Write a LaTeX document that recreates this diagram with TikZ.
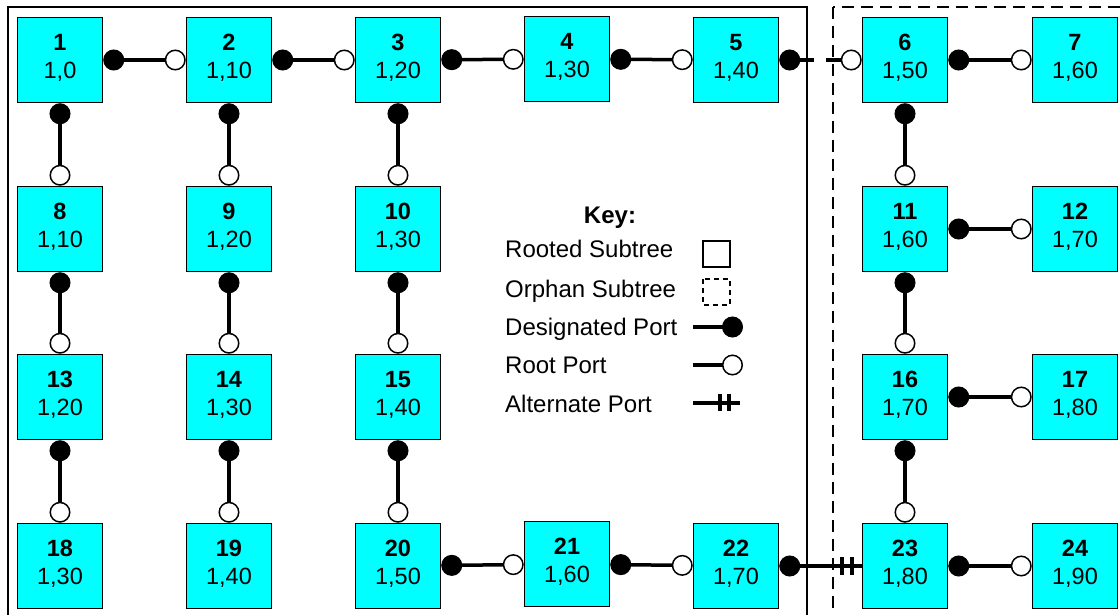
\documentclass[tikz,border=0pt]{standalone}
\usepackage{fontspec}
\setmainfont{Liberation Sans}
\usetikzlibrary{arrows.meta}
\definecolor{boxcyan}{RGB}{0,255,255}
\tikzset{
  sw/.style={draw=black, line width=1.5pt, fill=boxcyan, minimum width=85pt, minimum height=85pt,
    inner sep=0pt, align=center, font=\fontsize{23.5}{28}\selectfont, text depth=7pt},
  dport/.tip={Circle[length=21pt, line width=1pt]},
  rport/.tip={Circle[length=21pt, fill=white, line width=1.5pt]},
  link/.style={line width=3.5pt, dport-rport},
  keytxt/.style={anchor=base west, inner sep=0pt, font=\fontsize{24}{28}\selectfont},
  bar/.style={line width=3.5pt},
}
\begin{document}
\begin{tikzpicture}[x=1pt, y=-1pt]
\useasboundingbox (0,0) rectangle (1120,615);
\clip (0,0) rectangle (1120,615);
% subtrees
\draw[line width=1.5pt] (8,7) rectangle (807,650);
\draw[line width=1.5pt, dash pattern=on 12pt off 7pt] (833,7) rectangle (1160,650);
% row 1
\node[sw] (n1) at (60,60) {\textbf{1}\\1,0};
\node[sw] (n2) at (229,60) {\textbf{2}\\1,10};
\node[sw] (n3) at (398,60) {\textbf{3}\\1,20};
\node[sw] (n4) at (567,59) {\textbf{4}\\1,30};
\node[sw] (n5) at (736,60) {\textbf{5}\\1,40};
\node[sw] (n6) at (905,60) {\textbf{6}\\1,50};
\node[sw] (n7) at (1075,60) {\textbf{7}\\1,60};
% row 2
\node[sw] (n8) at (60,229) {\textbf{8}\\1,10};
\node[sw] (n9) at (229,229) {\textbf{9}\\1,20};
\node[sw] (n10) at (398,229) {\textbf{10}\\1,30};
\node[sw] (n11) at (905,229) {\textbf{11}\\1,60};
\node[sw] (n12) at (1075,229) {\textbf{12}\\1,70};
% row 3
\node[sw] (n13) at (60,397) {\textbf{13}\\1,20};
\node[sw] (n14) at (229,397) {\textbf{14}\\1,30};
\node[sw] (n15) at (398,397) {\textbf{15}\\1,40};
\node[sw] (n16) at (905,397) {\textbf{16}\\1,70};
\node[sw] (n17) at (1075,397) {\textbf{17}\\1,80};
% row 4
\node[sw] (n18) at (60,566) {\textbf{18}\\1,30};
\node[sw] (n19) at (229,566) {\textbf{19}\\1,40};
\node[sw] (n20) at (398,566) {\textbf{20}\\1,50};
\node[sw] (n21) at (567,564) {\textbf{21}\\1,60};
\node[sw] (n22) at (736,566) {\textbf{22}\\1,70};
\node[sw] (n23) at (905,566) {\textbf{23}\\1,80};
\node[sw] (n24) at (1075,566) {\textbf{24}\\1,90};
% links
\draw[link] (n1) -- (n2);
\draw[link] (n2) -- (n3);
\draw[link] (n3) -- (n4);
\draw[link] (n4) -- (n5);
\draw[link, dash pattern=on 14pt off 12pt on 60pt off 1pt] (n5) -- (n6);
\draw[link] (n6) -- (n7);
\draw[link] (n1) -- (n8);
\draw[link] (n2) -- (n9);
\draw[link] (n3) -- (n10);
\draw[link] (n8) -- (n13);
\draw[link] (n9) -- (n14);
\draw[link] (n10) -- (n15);
\draw[link] (n13) -- (n18);
\draw[link] (n14) -- (n19);
\draw[link] (n15) -- (n20);
\draw[link] (n20) -- (n21);
\draw[link] (n21) -- (n22);
\draw[line width=3.5pt, dport-] (n22) -- (n23);
\draw[bar] ([xshift=-10pt]n23.west) ++(0,-9) -- ++(0,18);
\draw[bar] ([xshift=-20pt]n23.west) ++(0,-9) -- ++(0,18);
\draw[link] (n6) -- (n11);
\draw[link] (n11) -- (n12);
\draw[link] (n11) -- (n16);
\draw[link] (n16) -- (n17);
\draw[link] (n16) -- (n23);
\draw[link] (n23) -- (n24);
% key
\node[anchor=base, inner sep=0pt, font=\fontsize{24}{28}\selectfont\bfseries] (key) at (610,223) {Key:};
\node[keytxt] (krooted) at (505,257) {Rooted Subtree};
\node[keytxt] (korphan) at (505,297) {Orphan Subtree};
\node[keytxt] (kdesig) at (505,335) {Designated Port};
\node[keytxt] (kroot) at (505,373) {Root Port};
\node[keytxt] (kalt) at (505,412) {Alternate Port};
\draw[line width=1.5pt] (703,241) rectangle (730,267);
\draw[line width=1.5pt, dash pattern=on 5pt off 4pt] (703,279) rectangle (730,305);
\draw[line width=3.5pt, -dport] (693,327) -- (743,327);
\draw[line width=3.5pt, -rport] (693,365) -- (743,365);
\draw[line width=3.5pt] (693,403) -- (740,403);
\draw[bar] (720,394) -- (720,411);
\draw[bar] (729,394) -- (729,411);
\end{tikzpicture}
\end{document}
